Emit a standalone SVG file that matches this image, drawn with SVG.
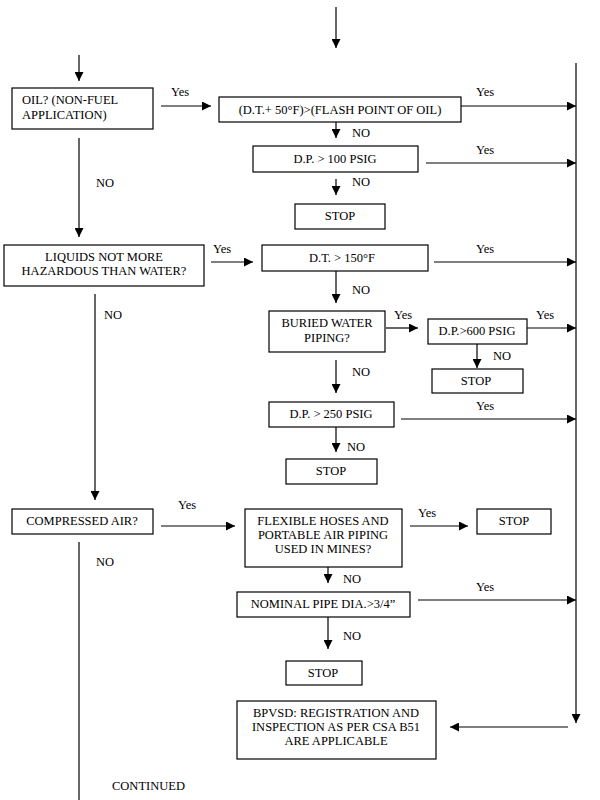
<svg xmlns="http://www.w3.org/2000/svg" width="600" height="800" viewBox="0 0 600 800">
<defs>
<marker id="ah" markerUnits="userSpaceOnUse" markerWidth="9" markerHeight="9" refX="9" refY="4.5" orient="auto">
<path d="M0,0 L9,4.5 L0,9 z" fill="#000"/>
</marker>
<style>
rect{fill:#fff;stroke:#000;stroke-width:1.2}
text{font-family:'Liberation Serif',serif;font-size:12.5px;fill:#000}
.c{text-anchor:middle}
.l line{stroke:#000;stroke-width:1.2}
.a{marker-end:url(#ah)}
</style>
</defs>
<rect x="0" y="0" width="600" height="800" style="stroke:none"/>
<g class="l" id="connectors">
<line class="a" x1="336" y1="7" x2="336" y2="48"/>
<line class="a" x1="79" y1="55" x2="79" y2="81"/>
<line class="a" x1="161" y1="106" x2="211" y2="106"/>
<line class="a" x1="460" y1="106" x2="576" y2="106"/>
<line class="a" x1="576" y1="63" x2="576" y2="723"/>
<line class="a" x1="336" y1="122" x2="336" y2="138"/>
<line class="a" x1="426" y1="163" x2="576" y2="163"/>
<line class="a" x1="336" y1="179" x2="336" y2="195"/>
<line class="a" x1="79" y1="138" x2="79" y2="237"/>
<line class="a" x1="211" y1="262" x2="253" y2="262"/>
<line class="a" x1="434" y1="262" x2="576" y2="262"/>
<line class="a" x1="336" y1="271" x2="336" y2="303"/>
<line class="a" x1="386" y1="328" x2="418" y2="328"/>
<line class="a" x1="527" y1="328" x2="576" y2="328"/>
<line class="a" x1="477" y1="344" x2="477" y2="368"/>
<line class="a" x1="336" y1="360" x2="336" y2="393"/>
<line class="a" x1="401" y1="419" x2="576" y2="419"/>
<line class="a" x1="336" y1="427" x2="336" y2="452"/>
<line class="a" x1="95" y1="294" x2="95" y2="500"/>
<line class="a" x1="161" y1="526" x2="235" y2="526"/>
<line class="a" x1="410" y1="526" x2="468" y2="526"/>
<line class="a" x1="328" y1="567" x2="328" y2="583"/>
<line class="a" x1="418" y1="600" x2="576" y2="600"/>
<line class="a" x1="328" y1="617" x2="328" y2="649"/>
<line class="a" x1="568" y1="727" x2="450" y2="727"/>
<line x1="79" y1="542" x2="79" y2="800"/>
</g>
<g id="labels">
<text x="171" y="96">Yes</text>
<text x="476" y="96">Yes</text>
<text x="352" y="137">NO</text>
<text x="476" y="154">Yes</text>
<text x="352" y="186">NO</text>
<text x="96" y="187">NO</text>
<text x="213" y="253">Yes</text>
<text x="476" y="253">Yes</text>
<text x="352" y="294">NO</text>
<text x="104" y="319">NO</text>
<text x="394" y="319">Yes</text>
<text x="536" y="319">Yes</text>
<text x="493" y="360">NO</text>
<text x="352" y="376">NO</text>
<text x="476" y="410">Yes</text>
<text x="347" y="451">NO</text>
<text x="178" y="509">Yes</text>
<text x="418" y="517">Yes</text>
<text x="96" y="566">NO</text>
<text x="343" y="583">NO</text>
<text x="476" y="591">Yes</text>
<text x="343" y="640">NO</text>
<text x="112" y="790">CONTINUED</text>
</g>
<g id="n-oil"><rect x="12" y="88" width="141" height="41"/><text x="22" y="104">OIL? (NON-FUEL</text><text x="22" y="119">APPLICATION)</text></g>
<g id="n-flash"><rect x="219" y="97" width="242" height="25"/><text class="c" x="340" y="114">(D.T.+ 50°F)&gt;(FLASH POINT OF OIL)</text></g>
<g id="n-dp100"><rect x="253" y="146" width="165" height="26"/><text class="c" x="335" y="163">D.P. &gt; 100 PSIG</text></g>
<g id="n-stop1"><rect x="295" y="204" width="90" height="25"/><text class="c" x="340" y="220">STOP</text></g>
<g id="n-liquids"><rect x="4" y="245" width="200" height="41"/><text class="c" x="104" y="261">LIQUIDS NOT MORE</text><text class="c" x="104" y="275">HAZARDOUS THAN WATER?</text></g>
<g id="n-dt150"><rect x="262" y="245" width="166" height="26"/><text class="c" x="342" y="262">D.T. &gt; 150°F</text></g>
<g id="n-buried"><rect x="269" y="311" width="116" height="41"/><text class="c" x="327" y="327">BURIED WATER</text><text class="c" x="327" y="342">PIPING?</text></g>
<g id="n-dp600"><rect x="428" y="319" width="99" height="25"/><text class="c" x="477" y="335">D.P.&gt;600 PSIG</text></g>
<g id="n-stop2"><rect x="432" y="369" width="91" height="24"/><text class="c" x="476" y="385">STOP</text></g>
<g id="n-dp250"><rect x="269" y="402" width="125" height="25"/><text class="c" x="331" y="418">D.P. &gt; 250 PSIG</text></g>
<g id="n-stop3"><rect x="286" y="459" width="91" height="25"/><text class="c" x="331" y="475">STOP</text></g>
<g id="n-air"><rect x="12" y="509" width="141" height="25"/><text class="c" x="82" y="525">COMPRESSED AIR?</text></g>
<g id="n-flex"><rect x="245" y="509" width="157" height="58"/><text class="c" x="323" y="525">FLEXIBLE HOSES AND</text><text class="c" x="323" y="539">PORTABLE AIR PIPING</text><text class="c" x="323" y="553">USED IN MINES?</text></g>
<g id="n-stop4"><rect x="477" y="509" width="74" height="25"/><text class="c" x="514" y="525">STOP</text></g>
<g id="n-nominal"><rect x="237" y="592" width="173" height="25"/><text class="c" x="323" y="608">NOMINAL PIPE DIA.&gt;3/4”</text></g>
<g id="n-stop5"><rect x="286" y="661" width="76" height="24"/><text class="c" x="323" y="677">STOP</text></g>
<g id="n-bpvsd"><rect x="237" y="701" width="199" height="58"/><text class="c" x="336" y="717">BPVSD: REGISTRATION AND</text><text class="c" x="336" y="731">INSPECTION AS PER CSA B51</text><text class="c" x="336" y="745">ARE APPLICABLE</text></g>
</svg>
